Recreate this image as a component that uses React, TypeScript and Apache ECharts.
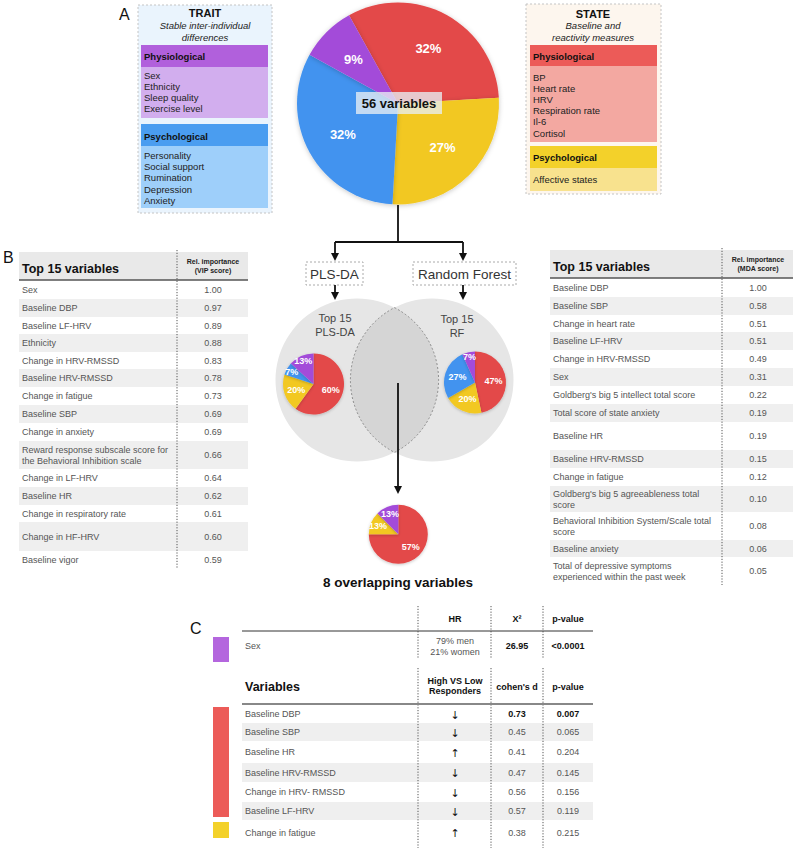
import React, { useEffect, useRef } from "react";
import * as echarts from "echarts";

// ---------------- DATA ----------------
const traitPhys = ["Sex", "Ethnicity", "Sleep quality", "Exercise level"];
const traitPsych = ["Personality", "Social support", "Rumination", "Depression", "Anxiety"];
const statePhys = ["BP", "Heart rate", "HRV", "Respiration rate", "Il-6", "Cortisol"];
const statePsych = ["Affective states"];

// main pie: number of variables per group (56 total)
const mainGroups = ["State physiological", "State psychological", "Trait psychological", "Trait physiological"];
const mainCounts = [18, 15, 18, 5];

// PLS-DA top 15 composition
const plsGroups = ["State physiological", "State psychological", "Trait psychological", "Trait physiological"];
const plsCounts = [9, 3, 1, 2];
// Random forest top 15 composition
const rfGroups = ["State physiological", "State psychological", "Trait psychological", "Trait physiological"];
const rfCounts = [7, 3, 4, 1];
// overlapping variables composition + printed labels
const overlapGroups = ["State physiological", "State psychological", "Trait physiological"];
const overlapCounts = [6, 1, 1];
const overlapLabels = ["57%", "13%", "13%"];

const plsVars = [
  "Sex", "Baseline DBP", "Baseline LF-HRV", "Ethnicity", "Change in HRV-RMSSD",
  "Baseline HRV-RMSSD", "Change in fatigue", "Baseline SBP", "Change in anxiety",
  "Reward response subscale score for\nthe Behavioral Inhibition scale",
  "Change in LF-HRV", "Baseline HR", "Change in respiratory rate", "Change in HF-HRV", "Baseline vigor",
];
const plsScores = [1.0, 0.97, 0.89, 0.88, 0.83, 0.78, 0.73, 0.69, 0.69, 0.66, 0.64, 0.62, 0.61, 0.6, 0.59];

const rfVars = [
  "Baseline DBP", "Baseline SBP", "Change in heart rate", "Baseline LF-HRV", "Change in HRV-RMSSD",
  "Sex", "Goldberg's big 5 intellect total score", "Total score of state anxiety", "Baseline HR",
  "Baseline HRV-RMSSD", "Change in fatigue", "Goldberg's big 5 agreeableness total\nscore",
  "Behavioral Inhibition System/Scale total\nscore", "Baseline anxiety",
  "Total of depressive symptoms\nexperienced within the past week",
];
const rfScores = [1.0, 0.58, 0.51, 0.51, 0.49, 0.31, 0.22, 0.19, 0.19, 0.15, 0.12, 0.1, 0.08, 0.06, 0.05];

const cVars = ["Baseline DBP", "Baseline SBP", "Baseline HR", "Baseline HRV-RMSSD", "Change in HRV- RMSSD", "Baseline LF-HRV", "Change in fatigue"];
const cDirection = ["↓", "↓", "↑", "↓", "↓", "↓", "↑"];
const cCohen = [0.73, 0.45, 0.41, 0.47, 0.56, 0.57, 0.38];
const cPval = ["0.007", "0.065", "0.204", "0.145", "0.156", "0.119", "0.215"];
const sexHR = ["79% men", "21% women"];
const sexChi = "26.95";
const sexP = "<0.0001";

// ---------------- STYLE / LAYOUT ----------------
const FONT = "'Liberation Sans', Arial, Helvetica, sans-serif";
const COL: Record<string, string> = {
  "State physiological": "#E34848",
  "State psychological": "#F2C823",
  "Trait psychological": "#4293EF",
  "Trait physiological": "#A34BD9",
};
// which slice labels sit further out (small slices)
const plsOuter = [false, false, true, true];
const rfOuter = [false, false, false, true];
const overlapOuter = [false, true, true];
const mainOuter = [true, true, true, true];

const plsRowH = [18, 18, 17, 18, 17, 18, 18, 18, 18, 28, 18, 18, 17, 29, 18];
const rfRowH = [18, 18, 17, 18, 18, 18, 18, 18, 28, 18, 18, 26, 28, 17, 28];
const cRowH = [18, 18, 22, 19, 20, 18, 25];

echarts.graphic.registerShape(
  "lens",
  echarts.graphic.extendPath(
    "M394.5 307.6 A81.5 81.5 0 0 1 394.5 452.4 A81.5 81.5 0 0 1 394.5 307.6 Z",
    {}
  )
);

type TO = { size?: number; weight?: string; color?: string; align?: string; v?: string; italic?: boolean; lh?: number; family?: string };
function txt(x: number, y: number, text: string, o: TO = {}) {
  const align = o.align || "left";
  const v = o.v || "middle";
  return {
    type: "text",
    x,
    y,
    z: 30,
    silent: true,
    style: {
      text,
      fill: o.color || "#555",
      fontSize: o.size || 9,
      fontWeight: o.weight || "normal",
      fontStyle: o.italic ? "italic" : "normal",
      fontFamily: o.family || FONT,
      align,
      textAlign: align,
      verticalAlign: v,
      textVerticalAlign: v,
      lineHeight: o.lh || Math.round((o.size || 9) * 1.2),
    },
  };
}
function rect(x: number, y: number, w: number, h: number, fill: string, extra: any = {}) {
  return { type: "rect", z: extra.z ?? 5, silent: true, shape: { x, y, width: w, height: h }, style: { fill, ...(extra.style || {}) } };
}
function line(x1: number, y1: number, x2: number, y2: number, stroke: string, w = 1, dash?: number[], z = 6) {
  return { type: "line", z, silent: true, shape: { x1, y1, x2, y2 }, style: { stroke, lineWidth: w, lineDash: dash } };
}
function arrowDown(x: number, y1: number, tip: number) {
  return [
    line(x, y1, x, tip - 6, "#111", 1.8, undefined, 25),
    { type: "polygon", z: 25, silent: true, shape: { points: [[x - 4, tip - 8], [x + 4, tip - 8], [x, tip]] }, style: { fill: "#111" } },
  ];
}

function buildGraphics() {
  const g: any[] = [];
  // ---------- A: TRAIT box ----------
  g.push(txt(119, 14, "A", { size: 16, color: "#111" }));
  g.push(rect(138, 5, 134, 208, "#EAF4FD", { style: { stroke: "#C4C4C4", lineWidth: 1, lineDash: [2, 2] } }));
  g.push(txt(205, 13, "TRAIT", { size: 11, weight: "bold", color: "#111", align: "center" }));
  g.push(txt(205, 25, "Stable inter-individual", { size: 9.5, italic: true, color: "#222", align: "center" }));
  g.push(txt(205, 37, "differences", { size: 9.5, italic: true, color: "#222", align: "center" }));
  g.push(rect(141, 45, 127, 22, "#B160DC"));
  g.push(rect(141, 67, 127, 51, "#D2AEEE"));
  g.push(txt(144, 56, "Physiological", { size: 9.5, weight: "bold", color: "#111" }));
  traitPhys.forEach((s, i) => g.push(txt(144, 75 + i * 11.3, s, { size: 9.5, color: "#222" })));
  g.push(rect(141, 124, 127, 22, "#4A9DF0"));
  g.push(rect(141, 146, 127, 62, "#9ECFFA"));
  g.push(txt(144, 136, "Psychological", { size: 9.5, weight: "bold", color: "#111" }));
  traitPsych.forEach((s, i) => g.push(txt(144, 155 + i * 11.4, s, { size: 9.5, color: "#222" })));

  // ---------- STATE box ----------
  g.push(rect(526, 4, 135, 190, "#FDF6EE", { style: { stroke: "#C4C4C4", lineWidth: 1, lineDash: [2, 2] } }));
  g.push(txt(593, 14, "STATE", { size: 11, weight: "bold", color: "#111", align: "center" }));
  g.push(txt(593, 25, "Baseline and", { size: 9.5, italic: true, color: "#222", align: "center" }));
  g.push(txt(593, 37, "reactivity measures", { size: 9.5, italic: true, color: "#222", align: "center" }));
  g.push(rect(530, 45, 127, 21, "#EC5B58"));
  g.push(rect(530, 66, 127, 76, "#F3A8A1"));
  g.push(txt(533, 56, "Physiological", { size: 9.5, weight: "bold", color: "#111" }));
  statePhys.forEach((s, i) => g.push(txt(533, 77 + i * 11.2, s, { size: 9.5, color: "#222" })));
  g.push(rect(530, 146, 127, 22, "#F3D12A"));
  g.push(rect(530, 168, 127, 23, "#F8E28E"));
  g.push(txt(533, 157, "Psychological", { size: 9.5, weight: "bold", color: "#111" }));
  statePsych.forEach((s, i) => g.push(txt(533, 179 + i * 11.2, s, { size: 9.5, color: "#222" })));

  // label in main pie
  g.push(rect(356, 92, 86, 22, "rgba(232,238,244,0.78)", { z: 28 }));
  g.push(txt(399, 103.5, "56 variables", { size: 13, weight: "bold", color: "#111", align: "center" }));

  // ---------- tree ----------
  g.push(line(398, 205, 398, 242, "#111", 1.8, undefined, 25));
  g.push(line(335, 242, 463, 242, "#111", 1.8, undefined, 25));
  g.push(...arrowDown(335, 242, 261));
  g.push(...arrowDown(463, 242, 261));
  g.push(rect(306, 262, 57, 23, "#fff", { style: { stroke: "#AAA", lineWidth: 1, lineDash: [2, 2] } }));
  g.push(rect(413, 262, 103, 23, "#fff", { style: { stroke: "#AAA", lineWidth: 1, lineDash: [2, 2] } }));
  g.push(txt(334.5, 274, "PLS-DA", { size: 13.5, color: "#333", align: "center" }));
  g.push(txt(464.5, 274, "Random Forest", { size: 13.5, color: "#333", align: "center" }));
  g.push(...arrowDown(335, 285, 300));
  g.push(...arrowDown(463, 285, 300));

  // Venn
  g.push({ type: "circle", z: 1, silent: true, shape: { cx: 357, cy: 380, r: 81.5 }, style: { fill: "#E6E6E6" } });
  g.push({ type: "circle", z: 1, silent: true, shape: { cx: 432, cy: 380, r: 81.5 }, style: { fill: "#E6E6E6" } });
  g.push({ type: "lens", z: 1.5, silent: true, x: 0, y: 0, style: { fill: "#D5D5D5", stroke: "#777", lineWidth: 0.8, lineDash: [2, 2] } });
  g.push(txt(335, 325, "Top 15\nPLS-DA", { size: 11, color: "#444", align: "center", lh: 14 }));
  g.push(txt(457, 326, "Top 15\nRF", { size: 11, color: "#444", align: "center", lh: 14 }));
  g.push(...arrowDown(398, 383, 494));
  g.push(txt(398, 582, "8 overlapping variables", { size: 13.5, weight: "bold", color: "#111", align: "center" }));

  // ---------- B tables ----------
  g.push(txt(3, 257, "B", { size: 16, color: "#111" }));
  const table = (x0: number, x1: number, hTop: number, hBot: number, sub: string, divX: number, valX: number,
    vars: string[], scores: number[], hs: number[], dotEnd: number) => {
    g.push(rect(x0, hTop, x1 - x0, hBot - hTop, "#E9E9E9"));
    g.push(txt(x0 + 3, hTop + 17, "Top 15 variables", { size: 12.5, weight: "bold", color: "#111" }));
    g.push(txt(valX, hTop + 14, "Rel. importance\n" + sub, { size: 7, weight: "bold", color: "#222", align: "center", lh: 9 }));
    let y = hBot + 1;
    vars.forEach((v, i) => {
      const h = hs[i];
      if (i % 2 === 1) g.push(rect(x0, y, x1 - x0, h, "#EFEFEF"));
      g.push(txt(x0 + 3, y + h / 2, v, { size: 9, color: "#555", lh: 11 }));
      g.push(txt(valX, y + h / 2, scores[i].toFixed(2), { size: 9, color: "#555", align: "center" }));
      y += h;
    });
    g.push(line(x0, hBot, x1, hBot, "#555", 1.6, undefined, 8));
    g.push(line(divX, hTop - 2, divX, dotEnd, "#555", 1, [1.2, 1.6], 8));
  };
  table(19, 248, 252, 280, "(VIP score)", 177, 213, plsVars, plsScores, plsRowH, 569);
  table(550, 793, 250, 278, "(MDA score)", 722, 758, rfVars, rfScores, rfRowH, 585);

  // ---------- C ----------
  g.push(txt(190, 628, "C", { size: 16, color: "#111" }));
  const dx = [418, 491, 543];
  dx.forEach((x) => g.push(line(x, 606, x, 658, "#555", 1, [1.2, 1.6], 8)));
  g.push(txt(455, 619, "HR", { size: 9, weight: "bold", color: "#111", align: "center" }));
  g.push(txt(517, 619, "X²", { size: 9, weight: "bold", color: "#111", align: "center" }));
  g.push(txt(568, 619, "p-value", { size: 9, weight: "bold", color: "#111", align: "center" }));
  g.push(line(242, 631, 593, 631, "#333", 1, undefined, 8));
  g.push(rect(213, 637, 16, 25, "#B466DE"));
  g.push(txt(245, 646, "Sex", { size: 9, color: "#555" }));
  g.push(txt(455, 646.5, sexHR.join("\n"), { size: 9, color: "#555", align: "center", lh: 11 }));
  g.push(txt(517, 646, sexChi, { size: 9, weight: "bold", color: "#111", align: "center" }));
  g.push(txt(568, 646, sexP, { size: 9, weight: "bold", color: "#111", align: "center" }));

  dx.forEach((x) => g.push(line(x, 668, x, 848, "#555", 1, [1.2, 1.6], 8)));
  g.push(txt(245, 687, "Variables", { size: 12.5, weight: "bold", color: "#111" }));
  g.push(txt(455, 686, "High VS Low\nResponders", { size: 9, weight: "bold", color: "#111", align: "center", lh: 10.5 }));
  g.push(txt(517, 687, "cohen's d", { size: 9, weight: "bold", color: "#111", align: "center" }));
  g.push(txt(568, 687, "p-value", { size: 9, weight: "bold", color: "#111", align: "center" }));
  let y = 705;
  cVars.forEach((v, i) => {
    const h = cRowH[i];
    if (i % 2 === 1) g.push(rect(242, y, 351, h, "#EFEFEF"));
    const c = y + h / 2;
    const bold = i === 0;
    g.push(txt(245, c, v, { size: 9, color: "#555" }));
    g.push(txt(455, c + 1, cDirection[i], { size: 11, color: "#111", align: "center", family: "'DejaVu Sans', sans-serif" }));
    g.push(txt(517, c, cCohen[i].toFixed(2), { size: 9, color: bold ? "#111" : "#555", weight: bold ? "bold" : "normal", align: "center" }));
    g.push(txt(568, c, cPval[i], { size: 9, color: bold ? "#111" : "#555", weight: bold ? "bold" : "normal", align: "center" }));
    y += h;
  });
  g.push(line(242, 704, 593, 704, "#888", 2, undefined, 8));
  g.push(rect(213, 707, 16, 110, "#EC5B58"));
  g.push(rect(213, 822, 16, 16, "#F3D12A"));
  return g;
}

function labelFmt(labels?: string[]) {
  return (p: any) => (labels ? labels[p.dataIndex] : Math.round(p.percent) + "%");
}
// pie drawing slices (+ labels of the big slices at mid radius)
function pieSeries(names: string[], counts: number[], cx: number, cy: number, r: number, start: number, size: number, outer: boolean[], labels?: string[], shadow = 3) {
  return {
    type: "pie",
    z: 10,
    silent: true,
    center: [cx, cy],
    radius: r,
    startAngle: start,
    clockwise: true,
    avoidLabelOverlap: false,
    label: { show: true, position: "inside", color: "#fff", fontWeight: "bold", fontSize: size, fontFamily: FONT, formatter: labelFmt(labels) },
    labelLine: { show: false },
    itemStyle: { borderWidth: 0, shadowBlur: shadow, shadowColor: "rgba(0,0,0,0.22)", shadowOffsetY: 1 },
    data: names.map((n, i) => ({ name: n, value: counts[i], itemStyle: { color: COL[n] }, label: { show: !outer[i] } })),
  };
}
// transparent companion pie that places the labels of the small slices further out
function labelPie(names: string[], counts: number[], cx: number, cy: number, r: number, start: number, size: number, outer: boolean[], labels?: string[]) {
  return {
    type: "pie",
    z: 12,
    silent: true,
    center: [cx, cy],
    radius: r,
    startAngle: start,
    clockwise: true,
    avoidLabelOverlap: false,
    label: { show: true, position: "inside", color: "#fff", fontWeight: "bold", fontSize: size, fontFamily: FONT, formatter: labelFmt(labels) },
    labelLine: { show: false },
    itemStyle: { color: "rgba(0,0,0,0)", borderWidth: 0 },
    data: names.map((n, i) => ({ name: n, value: counts[i], label: { show: outer[i] } })),
  };
}

export default function App() {
  const ref = useRef<HTMLDivElement>(null);
  useEffect(() => {
    if (!ref.current) return;
    const chart = echarts.init(ref.current, undefined, { renderer: "svg" });
    chart.setOption({
      animation: false,
      backgroundColor: "#fff",
      graphic: { elements: buildGraphics() },
      series: [
        pieSeries(mainGroups, mainCounts, 398, 103.5, 101, 119, 13, mainOuter, undefined, 5),
        labelPie(mainGroups, mainCounts, 398, 103.5, 120, 119, 13, mainOuter),
        pieSeries(plsGroups, plsCounts, 313.5, 384, 30.5, 90, 9, plsOuter),
        labelPie(plsGroups, plsCounts, 313.5, 384, 44, 90, 9, plsOuter),
        pieSeries(rfGroups, rfCounts, 475, 382.5, 31, 90, 9, rfOuter),
        labelPie(rfGroups, rfCounts, 475, 382.5, 46, 90, 9, rfOuter),
        pieSeries(overlapGroups, overlapCounts, 398.3, 534.3, 29.5, 90, 9, overlapOuter, overlapLabels),
        labelPie(overlapGroups, overlapCounts, 398.3, 534.3, 38, 90, 9, overlapOuter, overlapLabels),
      ],
    });
    return () => chart.dispose();
  }, []);
  return <div ref={ref} style={{ position: "fixed", left: 0, top: 0, width: 800, height: 848 }} />;
}
